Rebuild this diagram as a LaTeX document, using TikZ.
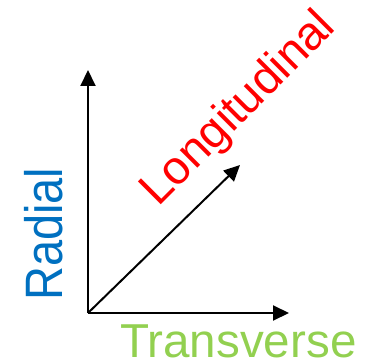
\documentclass[tikz,border=0pt]{standalone}
\usepackage{fontspec}
\setmainfont{Liberation Sans}
\usetikzlibrary{arrows.meta}
\definecolor{radblue}{HTML}{0070C0}
\definecolor{lonred}{HTML}{FF0000}
\definecolor{trgreen}{HTML}{92D050}
\begin{document}
\begin{tikzpicture}[x=1pt,y=1pt,
  axis/.style={line width=2pt,-{Triangle[length=16pt,width=15pt]}},
  lab/.style={inner sep=0pt,font=\fontsize{47}{50}\selectfont}]
\useasboundingbox (0,0) rectangle (366,359);
\coordinate (o) at (88,46);
\coordinate (r) at (88,289);
\coordinate (t) at (289,46);
\coordinate (l) at (240,194);
\draw[axis] (o) -- (r);
\draw[axis] (o) -- (t);
\draw[axis] (o) -- (l);
\node[lab,text=radblue,rotate=90,anchor=base west] (rad) at (62,58) {\scalebox{1}[1.12]{Radial}};
\node[lab,text=lonred,rotate=45,anchor=base west] (lon) at (158,151) {Longitudinal};
\node[lab,text=trgreen,anchor=base west,font=\fontsize{47.6}{50}\selectfont] (tra) at (120,2) {Transverse};
\end{tikzpicture}
\end{document}
